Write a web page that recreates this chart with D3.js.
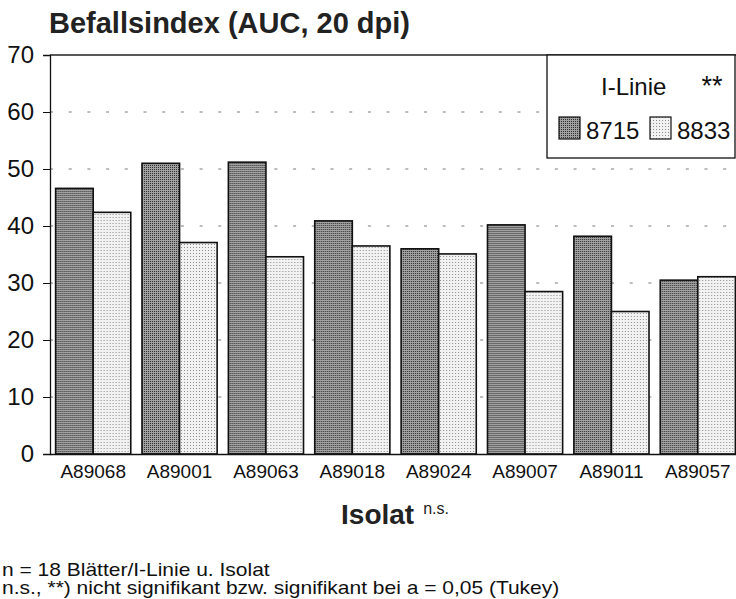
<!DOCTYPE html>
<html>
<head>
<meta charset="utf-8">
<script src="https://cdn.jsdelivr.net/npm/d3@7"></script>
<style>
  body { margin: 0; background: #fff; }
  svg { display: block; font-family: "Liberation Sans", Arial, sans-serif; }
</style>
</head>
<body>
<svg></svg>
<script>
// Daten
const isolates = ["A89068", "A89001", "A89063", "A89018", "A89024", "A89007", "A89011", "A89057"];
const lines = ["8715", "8833"];
const values8715 = [46.6, 51.0, 51.2, 40.9, 36.0, 40.2, 38.2, 30.5];
const values8833 = [42.4, 37.1, 34.6, 36.5, 35.1, 28.5, 25.0, 31.1];
const yTicks = [0, 10, 20, 30, 40, 50, 60, 70];

const width = 736;
const height = 599;
const margin = { top: 55, right: -5, bottom: 145, left: 50 };
const innerWidth = width - margin.left - margin.right;
const innerHeight = height - margin.top - margin.bottom;

const svg = d3.select("svg")
    .attr("width", width)
    .attr("height", height);

// Muster fuer die Rasterfuellung
const defs = svg.append("defs");
const dark = defs.append("pattern")
    .attr("id", "pat8715")
    .attr("width", 2).attr("height", 2)
    .attr("patternUnits", "userSpaceOnUse");
dark.append("rect").attr("width", 2).attr("height", 2).attr("fill", "#a0a0a0");
dark.append("rect").attr("width", 1).attr("height", 1).attr("fill", "#333");

const light = defs.append("pattern")
    .attr("id", "pat8833")
    .attr("width", 3).attr("height", 3)
    .attr("patternUnits", "userSpaceOnUse");
light.append("rect").attr("width", 3).attr("height", 3).attr("fill", "#f2f2f2");
light.append("rect").attr("width", 1).attr("height", 1).attr("fill", "#8c8c8c");

const fills = { "8715": "url(#pat8715)", "8833": "url(#pat8833)" };

// Skalen
const x0 = d3.scaleBand()
    .domain(isolates)
    .range([0, innerWidth])
    .paddingInner(0.13)
    .paddingOuter(0.065);

const x1 = d3.scaleBand()
    .domain(lines)
    .range([0, x0.bandwidth()]);

const y = d3.scaleLinear()
    .domain([0, 70])
    .range([innerHeight, 0]);

const g = svg.append("g")
    .attr("transform", `translate(${margin.left},${margin.top})`);

// Gitterlinien
g.append("g")
    .selectAll("line")
    .data(yTicks.filter(d => d > 0 && d < 70))
    .join("line")
    .attr("x1", 0)
    .attr("x2", innerWidth)
    .attr("y1", d => y(d))
    .attr("y2", d => y(d))
    .attr("stroke", "#7a7a7a")
    .attr("stroke-width", 1)
    .attr("stroke-dasharray", "3,15.7");

// oberer Rahmen
g.append("line")
    .attr("x1", 0).attr("x2", width - margin.left)
    .attr("y1", 0).attr("y2", 0)
    .attr("stroke", "#222")
    .attr("stroke-width", 1.3);

// Balken
const data = isolates.map((d, i) => ({ isolate: d, "8715": values8715[i], "8833": values8833[i] }));

g.append("g")
    .selectAll("g")
    .data(data)
    .join("g")
    .attr("transform", d => `translate(${x0(d.isolate)},0)`)
    .selectAll("rect")
    .data(d => lines.map(k => ({ key: k, value: d[k] })))
    .join("rect")
    .attr("x", d => x1(d.key))
    .attr("y", d => y(d.value))
    .attr("width", x1.bandwidth())
    .attr("height", d => y(0) - y(d.value))
    .attr("fill", d => fills[d.key])
    .attr("stroke", "#111")
    .attr("stroke-width", 1.6);

// Y-Achse
const yAxis = d3.axisLeft(y)
    .tickValues(yTicks)
    .tickSize(7)
    .tickPadding(9);

g.append("g")
    .attr("class", "y-axis")
    .call(yAxis)
    .attr("font-size", 24)
    .attr("font-family", null)
    .call(a => a.select(".domain").attr("stroke", "#111").attr("stroke-width", 1.3))
    .call(a => a.selectAll(".tick line").attr("stroke", "#111"))
    .call(a => a.selectAll(".tick text").attr("fill", "#111"));

// X-Achse
const xAxis = d3.axisBottom(x0)
    .tickSize(0)
    .tickPadding(11);

g.append("g")
    .attr("class", "x-axis")
    .attr("transform", `translate(0,${innerHeight})`)
    .call(xAxis)
    .attr("font-size", 19)
    .attr("font-family", null)
    .call(a => a.select(".domain").attr("stroke", "#111").attr("stroke-width", 1.3))
    .call(a => a.selectAll(".tick text").attr("fill", "#111"));

// Legende
const legend = svg.append("g")
    .attr("transform", "translate(547,55)");

legend.append("rect")
    .attr("width", 188)
    .attr("height", 103)
    .attr("fill", "#fff")
    .attr("stroke", "#111")
    .attr("stroke-width", 1.3);

legend.append("text")
    .attr("x", 54)
    .attr("y", 40)
    .attr("font-size", 24)
    .attr("fill", "#111")
    .text("I-Linie")
    .append("tspan")
    .attr("dx", 35)
    .attr("font-size", 27)
    .text("**");

const legendX = d3.scaleOrdinal()
    .domain(lines)
    .range([12, 103]);

const item = legend.selectAll(".item")
    .data(lines)
    .join("g")
    .attr("class", "item")
    .attr("transform", d => `translate(${legendX(d)},62)`);

item.append("rect")
    .attr("width", 21)
    .attr("height", 22)
    .attr("fill", d => fills[d])
    .attr("stroke", "#111")
    .attr("stroke-width", 1.2);

item.append("text")
    .attr("x", 27)
    .attr("y", 22)
    .attr("font-size", 24)
    .attr("fill", "#111")
    .text(d => d);

// Titel
svg.append("text")
    .attr("x", 49)
    .attr("y", 33)
    .attr("font-size", 29)
    .attr("font-weight", "bold")
    .attr("fill", "#222")
    .text("Befallsindex (AUC, 20 dpi)");

// Achsentitel
const xTitle = svg.append("text")
    .attr("x", 395)
    .attr("y", 524)
    .attr("text-anchor", "middle")
    .attr("fill", "#222");
xTitle.append("tspan")
    .attr("font-size", 28)
    .attr("font-weight", "bold")
    .text("Isolat");
xTitle.append("tspan")
    .attr("font-size", 16)
    .attr("dx", 9)
    .attr("dy", -10)
    .text("n.s.");

// Fussnoten (im Original breit laufend)
const notes = [
    "n = 18 Blätter/I-Linie u. Isolat",
    "n.s., **) nicht signifikant bzw. signifikant bei a = 0,05 (Tukey)"
];
svg.append("g")
    .selectAll("text")
    .data(notes)
    .join("text")
    .attr("transform", (d, i) => `translate(2,${576 + i * 18}) scale(1.2,1)`)
    .attr("font-size", 17.5)
    .attr("fill", "#111")
    .text(d => d);
</script>
</body>
</html>
